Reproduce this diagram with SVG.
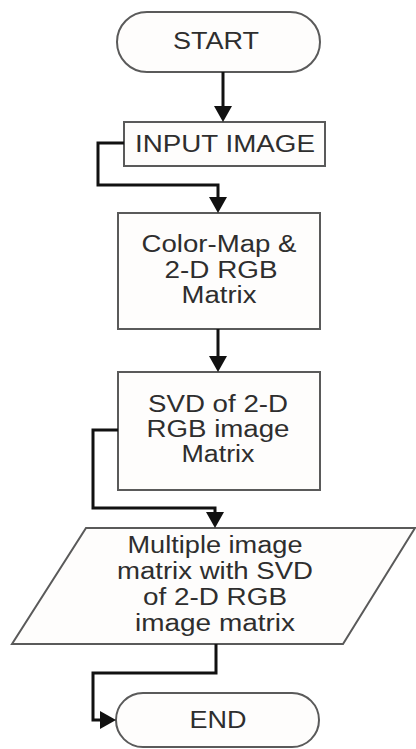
<svg xmlns="http://www.w3.org/2000/svg" width="416" height="749" viewBox="0 0 416 749">
<defs>
<marker id="ah" markerUnits="userSpaceOnUse" markerWidth="16" markerHeight="18" refX="12" refY="9" orient="auto" viewBox="0 0 16 18">
<path d="M0,0 L16,9 L0,18 Z" fill="#111"/>
</marker>
<style>
.shape{fill:#fefdfc;stroke:#5a5a5a;stroke-width:2}
.lbl{font-family:"Liberation Sans",Arial,sans-serif;font-size:23px;fill:#2e2e2e;text-anchor:middle}
.conn path{fill:none;stroke:#111;stroke-width:3;marker-end:url(#ah)}
</style>
</defs>
<rect width="416" height="749" fill="#fff"/>
<g id="start">
<rect class="shape" x="117" y="12" width="203" height="60" rx="30" ry="30"/>
<text class="lbl" x="216" y="49" textLength="86" lengthAdjust="spacingAndGlyphs">START</text>
</g>
<g id="input">
<rect class="shape" x="124" y="122" width="201" height="44"/>
<text class="lbl" x="225" y="152" textLength="180" lengthAdjust="spacingAndGlyphs">INPUT IMAGE</text>
</g>
<g id="colormap">
<rect class="shape" x="118" y="213" width="202" height="116"/>
<text class="lbl" x="219" y="252" textLength="155" lengthAdjust="spacingAndGlyphs">Color-Map &amp;</text>
<text class="lbl" x="221" y="278" textLength="113" lengthAdjust="spacingAndGlyphs">2-D RGB</text>
<text class="lbl" x="219" y="303" textLength="75" lengthAdjust="spacingAndGlyphs">Matrix</text>
</g>
<g id="svd">
<rect class="shape" x="118" y="372" width="202" height="118"/>
<text class="lbl" x="218" y="412" textLength="140" lengthAdjust="spacingAndGlyphs">SVD of 2-D</text>
<text class="lbl" x="218" y="437" textLength="143" lengthAdjust="spacingAndGlyphs">RGB image</text>
<text class="lbl" x="218" y="462" textLength="73" lengthAdjust="spacingAndGlyphs">Matrix</text>
</g>
<g id="multiply">
<polygon class="shape" points="86,528 415,528 343,644 12,644"/>
<text class="lbl" x="215" y="553" textLength="175" lengthAdjust="spacingAndGlyphs">Multiple image</text>
<text class="lbl" x="215" y="579" textLength="196" lengthAdjust="spacingAndGlyphs">matrix with SVD</text>
<text class="lbl" x="215" y="605" textLength="144" lengthAdjust="spacingAndGlyphs">of 2-D RGB</text>
<text class="lbl" x="215" y="631" textLength="160" lengthAdjust="spacingAndGlyphs">image matrix</text>
</g>
<g id="end">
<rect class="shape" x="116" y="693" width="203" height="54" rx="27" ry="27"/>
<text class="lbl" x="218" y="728" textLength="57" lengthAdjust="spacingAndGlyphs">END</text>
</g>
<g id="connectors" class="conn">
<path d="M223,72 V118"/>
<path d="M124,143 H98 V185 H218 V209"/>
<path d="M218,329 V368"/>
<path d="M118,430 H93 V508 H215 V524"/>
<path d="M216,644 V673 H93 V720 H112"/>
</g>
</svg>
